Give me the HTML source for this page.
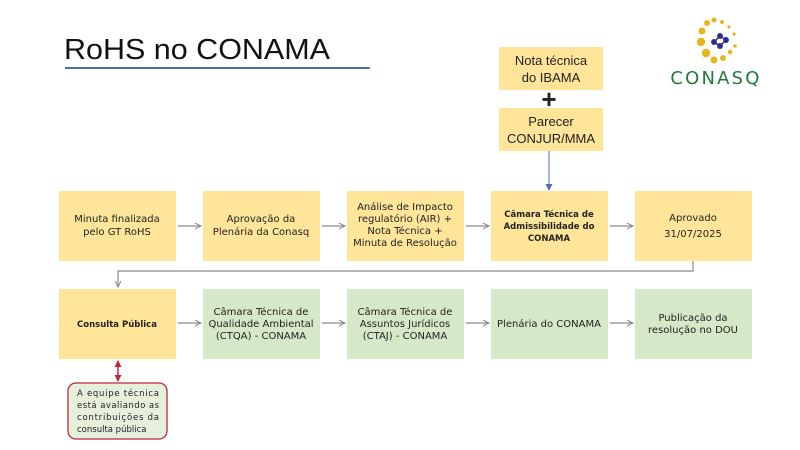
<!DOCTYPE html>
<html><head><meta charset="utf-8"><style>
html,body{margin:0;padding:0;background:#fff;width:800px;height:450px;overflow:hidden}
svg text{font-family:"DejaVu Sans","Liberation Sans",sans-serif}
</style></head><body>
<svg width="800" height="450" viewBox="0 0 800 450" xmlns="http://www.w3.org/2000/svg">
<defs>
<marker id="ar" markerWidth="8" markerHeight="8" refX="7" refY="4" orient="auto" markerUnits="userSpaceOnUse">
<path d="M1,1 L7,4 L1,7" fill="none" stroke="#8a8a8a" stroke-width="1"/></marker>
<marker id="ab" markerWidth="8" markerHeight="8" refX="6" refY="4" orient="auto" markerUnits="userSpaceOnUse">
<path d="M0,0.5 L7,4 L0,7.5z" fill="#4a72b0"/></marker>
<marker id="rr" markerWidth="8" markerHeight="8" refX="6" refY="4" orient="auto-start-reverse" markerUnits="userSpaceOnUse">
<path d="M0,0.5 L7,4 L0,7.5z" fill="#c0283a"/></marker>
</defs>
<text x="64" y="59" font-size="29" fill="#111" textLength="266" lengthAdjust="spacingAndGlyphs" style="font-family:'Liberation Sans',sans-serif">RoHS no CONAMA</text>
<line x1="65" y1="68" x2="370" y2="68" stroke="#4a72b0" stroke-width="2"/>

<g fill="#e7b61f">
<circle cx="707" cy="23" r="3"/><circle cx="714" cy="20" r="2.5"/><circle cx="722" cy="22" r="2"/><circle cx="729" cy="27" r="1.6"/><circle cx="734" cy="34" r="1.6"/>
<circle cx="702" cy="31" r="3.5"/><circle cx="701" cy="42" r="4.2"/><circle cx="706" cy="53" r="4.2"/><circle cx="714" cy="60" r="3.5"/><circle cx="723" cy="58" r="3"/><circle cx="730" cy="52" r="2.3"/><circle cx="735" cy="46" r="1.8"/>
</g>
<g fill="#2c2f8a" stroke="#2c2f8a" stroke-width="1.5">
<line x1="714" y1="42" x2="720" y2="36"/><line x1="720" y1="36" x2="726" y2="40"/><line x1="726" y1="40" x2="720" y2="46"/><line x1="720" y1="46" x2="714" y2="42"/>
<circle cx="714" cy="42" r="2.2"/><circle cx="720" cy="36" r="2.2"/><circle cx="726" cy="40" r="2.2"/><circle cx="720" cy="46" r="2.2"/>
</g>
<text x="716" y="84" text-anchor="middle" font-size="18" fill="#1f7a3c" letter-spacing="2.2" style="font-family:'DejaVu Sans',sans-serif">CONASQ</text>

<g font-size="13" fill="#222" text-anchor="middle">
<rect x="499" y="47" width="104" height="43" fill="#ffe59a"/>
<text x="551" y="65" style="font-family:'Liberation Sans',sans-serif">Nota técnica</text>
<text x="551" y="82" style="font-family:'Liberation Sans',sans-serif">do IBAMA</text>
<text x="549" y="108" font-size="26" font-weight="bold" style="font-family:'Liberation Sans',sans-serif">+</text>
<rect x="499" y="108" width="104" height="43" fill="#ffe59a"/>
<text x="551" y="126" style="font-family:'Liberation Sans',sans-serif">Parecer</text>
<text x="551" y="143" style="font-family:'Liberation Sans',sans-serif">CONJUR/MMA</text>
</g>
<line x1="549" y1="151" x2="549" y2="190" stroke="#4a72b0" stroke-width="1" marker-end="url(#ab)"/>

<g fill="#ffe59a">
<rect x="59" y="191" width="117" height="70"/><rect x="203" y="191" width="117" height="70"/><rect x="347" y="191" width="117" height="70"/><rect x="491" y="191" width="117" height="70"/><rect x="635" y="191" width="117" height="70"/>
<rect x="59" y="289" width="117" height="70"/>
</g>
<g fill="#d5e8c8">
<rect x="203" y="289" width="117" height="70"/><rect x="347" y="289" width="117" height="70"/><rect x="491" y="289" width="117" height="70"/><rect x="635" y="289" width="117" height="70"/>
</g>
<g stroke="#8a8a8a" stroke-width="1.2" fill="none">
<line x1="178" y1="226" x2="201" y2="226" marker-end="url(#ar)"/>
<line x1="322" y1="226" x2="345" y2="226" marker-end="url(#ar)"/>
<line x1="466" y1="226" x2="489" y2="226" marker-end="url(#ar)"/>
<line x1="610" y1="226" x2="633" y2="226" marker-end="url(#ar)"/>
<polyline points="693,261 693,271 118,271 118,287" marker-end="url(#ar)"/>
<line x1="178" y1="323" x2="201" y2="323" marker-end="url(#ar)"/>
<line x1="322" y1="323" x2="345" y2="323" marker-end="url(#ar)"/>
<line x1="466" y1="323" x2="489" y2="323" marker-end="url(#ar)"/>
<line x1="610" y1="323" x2="633" y2="323" marker-end="url(#ar)"/>
</g>
<g font-size="10" fill="#222" text-anchor="middle">
<text x="117" y="222">Minuta finalizada</text><text x="117" y="235">pelo GT RoHS</text>
<text x="261" y="222">Aprovação da</text><text x="261" y="235">Plenária da Conasq</text>
<text x="405" y="210">Análise de Impacto</text><text x="405" y="222">regulatório (AIR) +</text><text x="405" y="234">Nota Técnica +</text><text x="405" y="246">Minuta de Resolução</text>
<g font-weight="bold" font-size="8.5"><text x="549" y="217">Câmara Técnica de</text><text x="549" y="229">Admissibilidade do</text><text x="549" y="241">CONAMA</text></g>
<text x="693" y="221">Aprovado</text><text x="693" y="237">31/07/2025</text>
<text x="117" y="327" font-weight="bold" font-size="8.5">Consulta Pública</text>
<text x="261" y="315">Câmara Técnica de</text><text x="261" y="327">Qualidade Ambiental</text><text x="261" y="339">(CTQA) - CONAMA</text>
<text x="405" y="315">Câmara Técnica de</text><text x="405" y="327">Assuntos Jurídicos</text><text x="405" y="339">(CTAJ) - CONAMA</text>
<text x="549" y="327">Plenária do CONAMA</text>
<text x="693" y="321">Publicação da</text><text x="693" y="333">resolução no DOU</text>
</g>
<line x1="118" y1="361" x2="118" y2="381" stroke="#c0283a" stroke-width="1.5" marker-start="url(#rr)" marker-end="url(#rr)"/>
<rect x="68" y="383" width="99" height="56" rx="8" fill="#e4efdc" stroke="#c0283a" stroke-width="1.3"/>
<g font-size="8.5" fill="#222">
<text x="77" y="396" textLength="82" lengthAdjust="spacing">A equipe técnica</text>
<text x="77" y="408" textLength="82" lengthAdjust="spacing">está avaliando as</text>
<text x="77" y="420" textLength="82" lengthAdjust="spacing">contribuições da</text>
<text x="77" y="432">consulta pública</text>
</g>
</svg>
</body></html>
